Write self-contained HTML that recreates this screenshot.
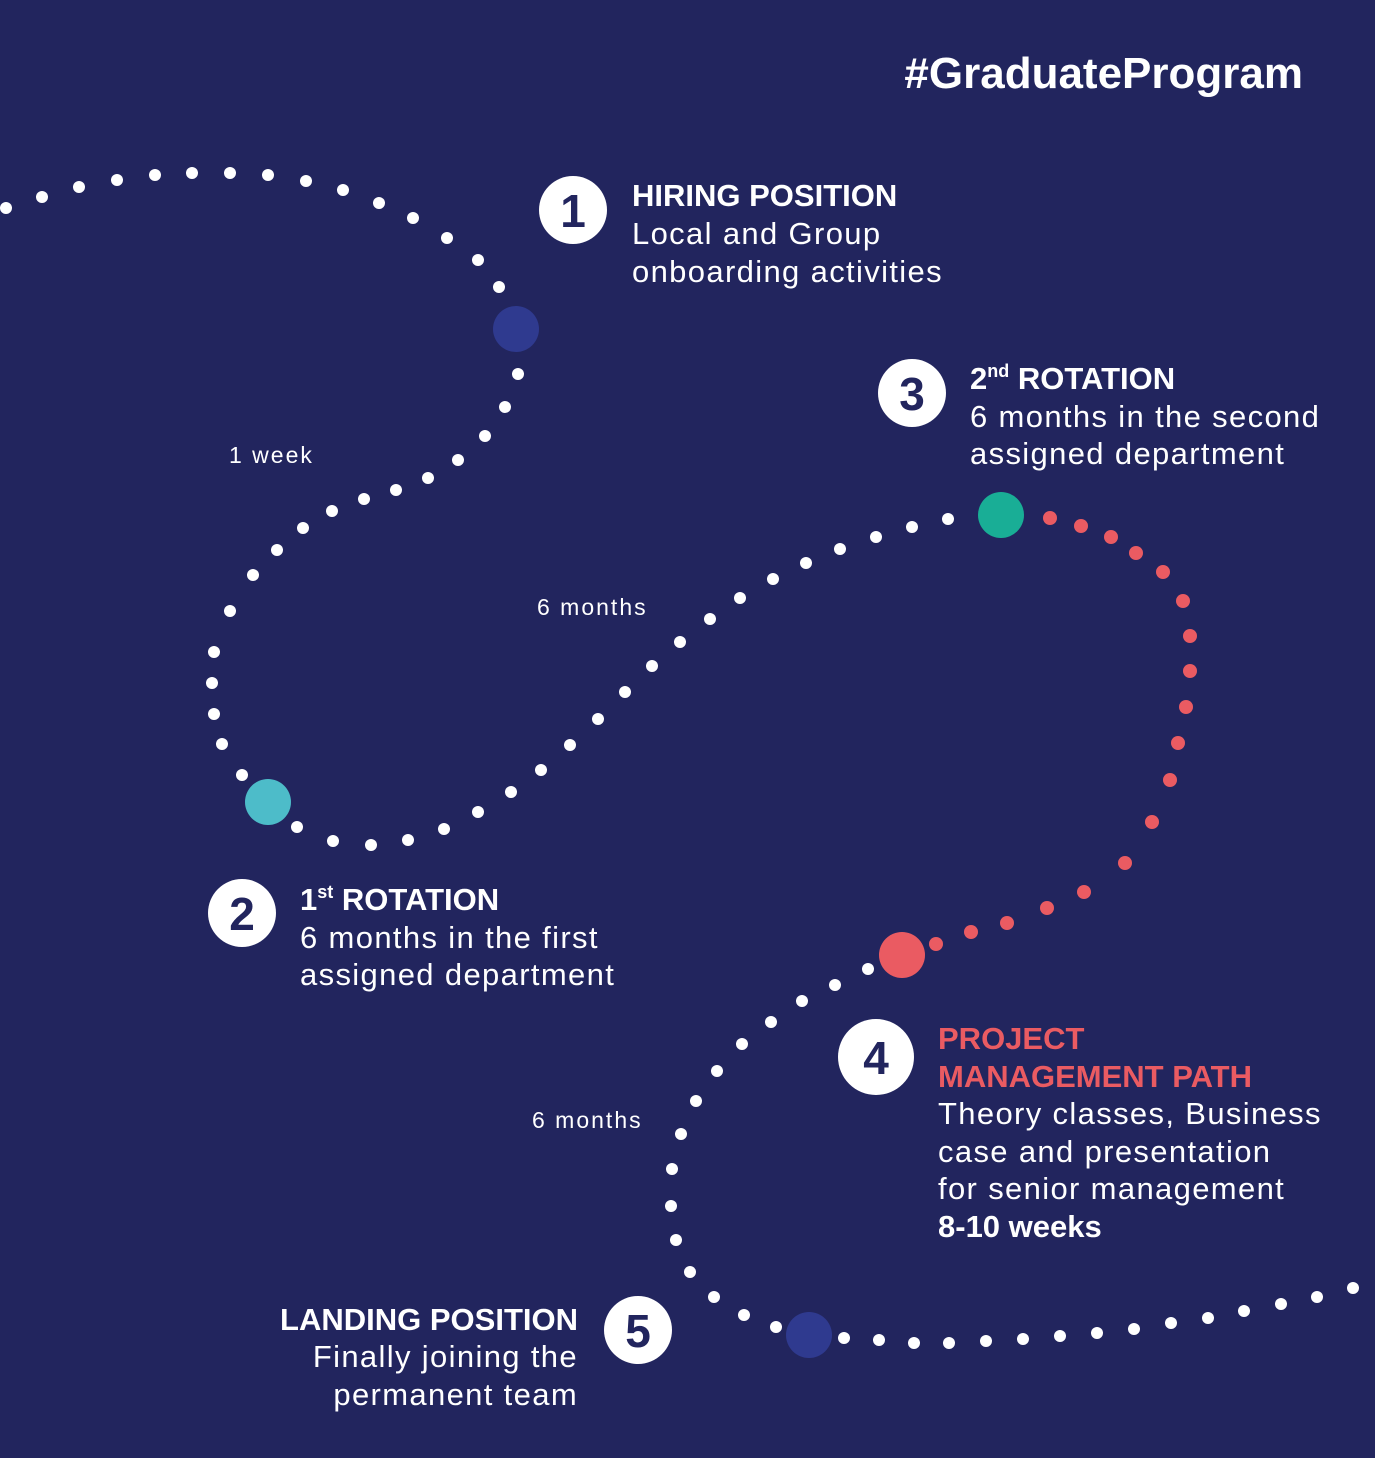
<!DOCTYPE html>
<html><head><meta charset="utf-8"><style>
html,body{margin:0;padding:0;background:#22255e;}
svg{display:block}
text{font-family:"Liberation Sans",sans-serif;fill:#fff}
.h{font-weight:bold;font-size:31px}
.b{font-size:31px;letter-spacing:1.35px}
.n{font-weight:bold;font-size:46px;fill:#22255e}
.s{font-size:23px;letter-spacing:2px}
</style></head><body>
<svg width="1375" height="1458" viewBox="0 0 1375 1458">
<rect width="1375" height="1458" fill="#22255e"/>
<text x="1303" y="88" text-anchor="end" style="font-weight:bold;font-size:44px">#GraduateProgram</text>
<g fill="#fff">
<circle cx="6" cy="208" r="6"/><circle cx="42" cy="197" r="6"/><circle cx="79" cy="187" r="6"/><circle cx="117" cy="180" r="6"/><circle cx="155" cy="175" r="6"/><circle cx="192" cy="173" r="6"/><circle cx="230" cy="173" r="6"/><circle cx="268" cy="175" r="6"/><circle cx="306" cy="181" r="6"/><circle cx="343" cy="190" r="6"/><circle cx="379" cy="203" r="6"/><circle cx="413" cy="218" r="6"/><circle cx="447" cy="238" r="6"/><circle cx="478" cy="260" r="6"/><circle cx="499" cy="287" r="6"/>
<circle cx="518" cy="374" r="6"/><circle cx="505" cy="407" r="6"/><circle cx="485" cy="436" r="6"/><circle cx="458" cy="460" r="6"/><circle cx="428" cy="478" r="6"/><circle cx="396" cy="490" r="6"/><circle cx="364" cy="499" r="6"/><circle cx="332" cy="511" r="6"/><circle cx="303" cy="528" r="6"/><circle cx="277" cy="550" r="6"/><circle cx="253" cy="575" r="6"/><circle cx="230" cy="611" r="6"/><circle cx="214" cy="652" r="6"/><circle cx="212" cy="683" r="6"/><circle cx="214" cy="714" r="6"/><circle cx="222" cy="744" r="6"/><circle cx="242" cy="775" r="6"/>
<circle cx="297" cy="827" r="6"/><circle cx="333" cy="841" r="6"/><circle cx="371" cy="845" r="6"/><circle cx="408" cy="840" r="6"/><circle cx="444" cy="829" r="6"/><circle cx="478" cy="812" r="6"/><circle cx="511" cy="792" r="6"/><circle cx="541" cy="770" r="6"/><circle cx="570" cy="745" r="6"/><circle cx="598" cy="719" r="6"/><circle cx="625" cy="692" r="6"/><circle cx="652" cy="666" r="6"/><circle cx="680" cy="642" r="6"/><circle cx="710" cy="619" r="6"/><circle cx="740" cy="598" r="6"/><circle cx="773" cy="579" r="6"/><circle cx="806" cy="563" r="6"/><circle cx="840" cy="549" r="6"/><circle cx="876" cy="537" r="6"/><circle cx="912" cy="527" r="6"/><circle cx="948" cy="519" r="6"/>
<circle cx="868" cy="969" r="6"/><circle cx="835" cy="985" r="6"/><circle cx="802" cy="1001" r="6"/><circle cx="771" cy="1022" r="6"/><circle cx="742" cy="1044" r="6"/><circle cx="717" cy="1071" r="6"/><circle cx="696" cy="1101" r="6"/><circle cx="681" cy="1134" r="6"/><circle cx="672" cy="1169" r="6"/><circle cx="671" cy="1206" r="6"/><circle cx="676" cy="1240" r="6"/><circle cx="690" cy="1272" r="6"/><circle cx="714" cy="1297" r="6"/><circle cx="744" cy="1315" r="6"/><circle cx="776" cy="1327" r="6"/>
<circle cx="844" cy="1338" r="6"/><circle cx="879" cy="1340" r="6"/><circle cx="914" cy="1343" r="6"/><circle cx="949" cy="1343" r="6"/><circle cx="986" cy="1341" r="6"/><circle cx="1023" cy="1339" r="6"/><circle cx="1060" cy="1336" r="6"/><circle cx="1097" cy="1333" r="6"/><circle cx="1134" cy="1329" r="6"/><circle cx="1171" cy="1323" r="6"/><circle cx="1208" cy="1318" r="6"/><circle cx="1244" cy="1311" r="6"/><circle cx="1281" cy="1304" r="6"/><circle cx="1317" cy="1297" r="6"/><circle cx="1353" cy="1288" r="6"/>
</g>
<g fill="#ea5b62">
<circle cx="1050" cy="518" r="7"/><circle cx="1081" cy="526" r="7"/><circle cx="1111" cy="537" r="7"/><circle cx="1136" cy="553" r="7"/><circle cx="1163" cy="572" r="7"/><circle cx="1183" cy="601" r="7"/><circle cx="1190" cy="636" r="7"/><circle cx="1190" cy="671" r="7"/><circle cx="1186" cy="707" r="7"/><circle cx="1178" cy="743" r="7"/><circle cx="1170" cy="780" r="7"/><circle cx="1152" cy="822" r="7"/><circle cx="1125" cy="863" r="7"/><circle cx="1084" cy="892" r="7"/><circle cx="1047" cy="908" r="7"/><circle cx="1007" cy="923" r="7"/><circle cx="971" cy="932" r="7"/><circle cx="936" cy="944" r="7"/>
<circle cx="902" cy="955" r="23"/>
</g>
<circle cx="516" cy="329" r="23" fill="#2f3a8f"/>
<circle cx="268" cy="802" r="23" fill="#4dbcc9"/>
<circle cx="1001" cy="515" r="23" fill="#19ae96"/>
<circle cx="809" cy="1335" r="23" fill="#2f3a8f"/>
<g fill="#fff">
<circle cx="573" cy="210" r="34"/><circle cx="242" cy="913" r="34"/><circle cx="912" cy="393" r="34"/><circle cx="876" cy="1057" r="38"/><circle cx="638" cy="1330" r="34"/>
</g>
<text class="n" x="573" y="227" text-anchor="middle">1</text>
<text class="n" x="242" y="930" text-anchor="middle">2</text>
<text class="n" x="912" y="410" text-anchor="middle">3</text>
<text class="n" x="876" y="1074" text-anchor="middle">4</text>
<text class="n" x="638" y="1347" text-anchor="middle">5</text>
<text class="h" x="632" y="206">HIRING POSITION</text>
<text class="b" x="632" y="244">Local and Group</text>
<text class="b" x="632" y="282">onboarding activities</text>
<text class="h" x="970" y="389">2<tspan font-size="18" dy="-12">nd</tspan><tspan dy="12"> ROTATION</tspan></text>
<text class="b" x="970" y="427">6 months in the second</text>
<text class="b" x="970" y="464">assigned department</text>
<text class="h" x="300" y="910">1<tspan font-size="18" dy="-12">st</tspan><tspan dy="12"> ROTATION</tspan></text>
<text class="b" x="300" y="948">6 months in the first</text>
<text class="b" x="300" y="985">assigned department</text>
<text class="h" x="938" y="1049" style="fill:#ea5b62">PROJECT</text>
<text class="h" x="938" y="1087" style="fill:#ea5b62">MANAGEMENT PATH</text>
<text class="b" x="938" y="1124">Theory classes, Business</text>
<text class="b" x="938" y="1162">case and presentation</text>
<text class="b" x="938" y="1199">for senior management</text>
<text class="h" x="938" y="1237">8-10 weeks</text>
<text class="h" x="578" y="1330" text-anchor="end">LANDING POSITION</text>
<text class="b" x="578" y="1367" text-anchor="end">Finally joining the</text>
<text class="b" x="578" y="1405" text-anchor="end">permanent team</text>
<text class="s" x="229" y="463">1 week</text>
<text class="s" x="537" y="615">6 months</text>
<text class="s" x="532" y="1128">6 months</text>
</svg>
</body></html>
